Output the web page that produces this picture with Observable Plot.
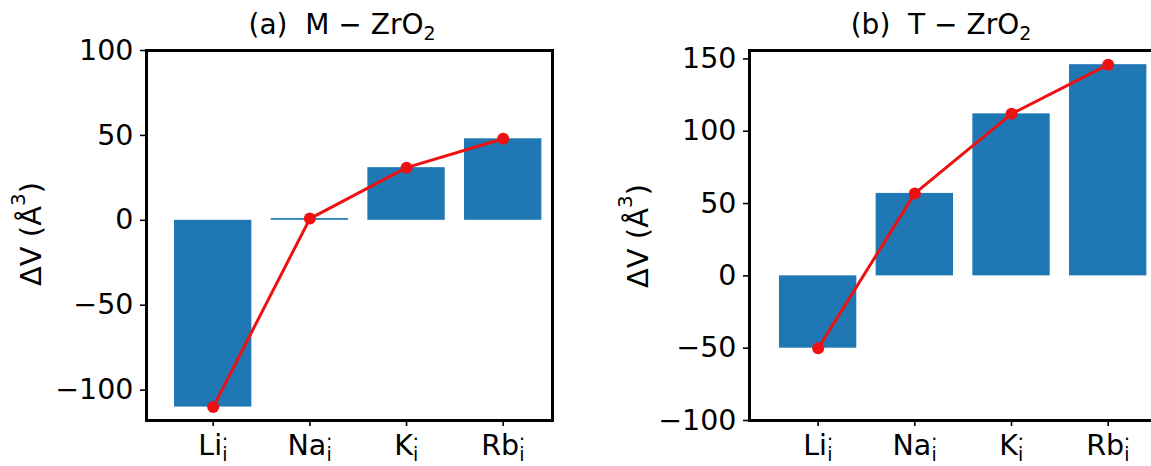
<!DOCTYPE html>
<html><head><meta charset="utf-8">
<script src="https://cdn.jsdelivr.net/npm/d3@7"></script>
<script src="https://cdn.jsdelivr.net/npm/@observablehq/plot@0.6"></script>
<style>
html,body{margin:0;padding:0;background:#fff;}
body{width:1151px;height:466px;overflow:hidden;position:relative;font-family:"DejaVu Sans",sans-serif;}
.panel{position:absolute;top:0;width:600px;height:466px;}
.panel svg{max-width:none !important;}
</style></head><body>
<div id="pa" class="panel" style="left:0px"></div>
<div id="pb" class="panel" style="left:580px"></div>
<script>
// ---- data ----
const ions = ["Li", "Na", "K", "Rb"];
const dV_M = [-110, 1, 31, 48];     // (a) M-ZrO2
const dV_T = [-50, 57, 112, 146];   // (b) T-ZrO2
const panelTags = ["(a)", "(b)"];
const phases = ["M", "T"];
const yTicksA = [-100, -50, 0, 50, 100];
const yTicksB = [-100, -50, 0, 50, 100, 150];
const yLabelMain = "ΔV (Å";
const yLabelSup = "3";

const fmtY = d => d < 0 ? "\u2212" + Math.abs(d) : String(d);

function panel(values, o) {
  const data = ions.map((ion, i) => ({ion, i, v: values[i]}));
  const plot = Plot.plot({
    width: 600, height: 466,
    marginLeft: o.marginLeft, marginRight: o.marginRight, marginTop: 50, marginBottom: 46,
    style: {fontFamily: "DejaVu Sans", fontSize: "28.5px", color: "black", background: "white", overflow: "visible"},
    x: {type: "linear", domain: o.xdomain, axis: null},
    y: {domain: o.ydomain, axis: null},
    marks: [
      Plot.rect(data, {x1: d => d.i - 0.4, x2: d => d.i + 0.4, y1: d => 0, y2: "v", fill: "#1f77b4"}),
      Plot.line(data, {x: "i", y: "v", stroke: "#ee1111", strokeWidth: 3}),
      Plot.dot(data, {x: "i", y: "v", r: 6, fill: "#ee1111", stroke: "none"}),
      Plot.axisX({ticks: ions.map((_, i) => i), tickFormat: i => ions[i], tickSize: 6, tickPadding: 8, strokeWidth: 1.6, label: null, fontSize: 28.5}),
      Plot.axisY({ticks: o.yticks, tickFormat: fmtY, tickSize: 6, tickPadding: 7, strokeWidth: 1.6, label: null, fontSize: 28.5}),
      Plot.frame({stroke: "black", strokeWidth: 3})
    ]
  });
  const svg = d3.select(plot);
  // Kröger-Vink style tick labels: Li with superscript dot and subscript i
  svg.selectAll('g[aria-label="x-axis tick label"] text').each(function() {
    const t = d3.select(this);
    const name = t.text();
    t.text(null);
    t.append("tspan").text(name);
    t.append("tspan").attr("font-size", 19).attr("dy", -15).text(".");
    t.append("tspan").attr("font-size", 19).attr("dx", -5.8).attr("dy", 21).text("i");
  });
  // title
  const title = svg.append("text")
    .attr("x", o.titleX).attr("y", 34)
    .attr("text-anchor", "middle")
    .attr("font-size", 28).attr("fill", "black")
    .style("white-space", "pre");
  title.append("tspan").text(o.tag + "  " + o.phase + " \u2212 ZrO");
  title.append("tspan").attr("font-size", 19).attr("dy", 6).text("2");
  // y label
  const yl = svg.append("text")
    .attr("transform", `translate(${o.ylabX},${o.ylabY}) rotate(-90)`)
    .attr("text-anchor", "middle").attr("dominant-baseline", "central")
    .attr("font-size", 29).attr("fill", "black")
    .style("white-space", "pre");
  yl.append("tspan").text(yLabelMain);
  yl.append("tspan").attr("font-size", 20).attr("dy", -13).text(yLabelSup);
  yl.append("tspan").attr("dy", 13).text(")");
  return plot;
}

document.getElementById("pa").append(panel(dV_M, {
  marginLeft: 146, marginRight: 48, xdomain: [-0.69, 3.51], ydomain: [-117.9, 100],
  yticks: yTicksA, tag: panelTags[0], phase: phases[0], titleX: 342, ylabX: 31, ylabY: 234
}));
document.getElementById("pb").append(panel(dV_T, {
  marginLeft: 169, marginRight: 23, xdomain: [-0.71, 3.51], ydomain: [-100, 155.8],
  yticks: yTicksB, tag: panelTags[1], phase: phases[1], titleX: 361, ylabX: 58, ylabY: 236
}));
</script>
</body></html>
